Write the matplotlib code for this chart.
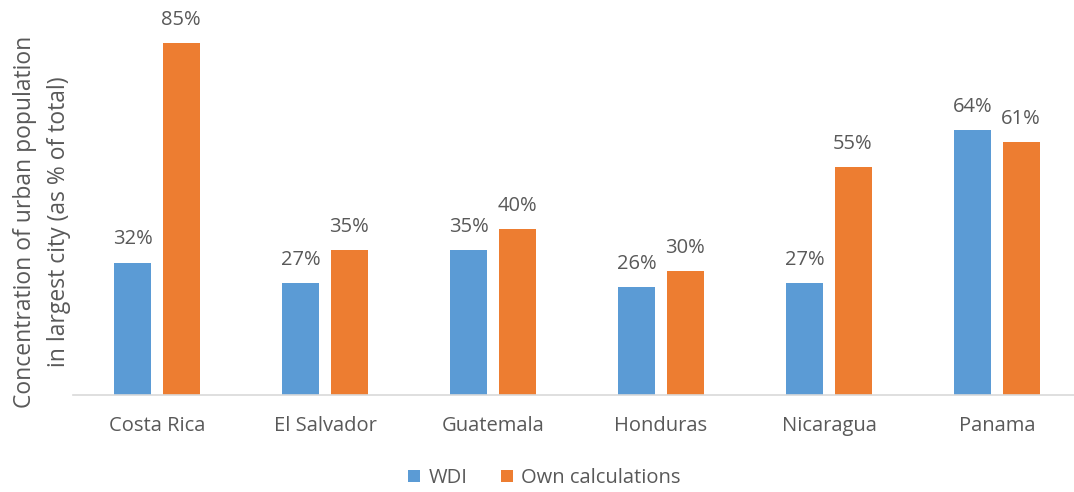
import numpy as np
import matplotlib.pyplot as plt

countries = ['Costa Rica', 'El Salvador', 'Guatemala', 'Honduras', 'Nicaragua', 'Panama']
wdi = [32, 27, 35, 26, 27, 64]
own = [85, 35, 40, 30, 55, 61]

blue = '#5B9BD5'
orange = '#ED7D31'
grey = '#595959'

plt.rcParams['font.family'] = ['Open Sans', 'DejaVu Sans']

fig = plt.figure(figsize=(10.74, 4.92), dpi=100)
ax = fig.add_axes([73 / 1074, 97 / 492, 1008 / 1074, 395 / 492])

x = np.arange(len(countries))
w = 0.22
off = 0.143
b1 = ax.bar(x - off, wdi, w, color=blue, label='WDI')
b2 = ax.bar(x + off, own, w, color=orange, label='Own calculations')

# value labels above each bar
for bars, vals in [(b1, wdi), (b2, own)]:
    for r, v in zip(bars, vals):
        ax.text(r.get_x() + r.get_width() / 2, v + 3.2, f'{v}%', ha='center', va='bottom',
                fontsize=14.5, color=grey)

ax.set_xlim(-0.5, 5.5)
ax.set_ylim(0, 95.4)
ax.set_yticks([])
ax.set_xticks(x)
ax.set_xticklabels(countries, fontsize=14.5, color=grey)
ax.tick_params(axis='x', length=0, pad=15)
for s in ['top', 'right', 'left']:
    ax.spines[s].set_visible(False)
ax.spines['bottom'].set_color('#D9D9D9')
ax.spines['bottom'].set_linewidth(1.2)

fig.text(42 / 1074, 1 - 222 / 492,
         'Concentration of urban population\nin largest city (as % of total)',
         rotation=90, ha='center', va='center', fontsize=16.5, color=grey, linespacing=1.55)

fig.legend(handles=[b1, b2], loc='center', bbox_to_anchor=(0.507, 1 - 478 / 492), ncol=2,
           frameon=False, fontsize=14.5, labelcolor=grey, handlelength=0.6, handleheight=0.6,
           handletextpad=0.4, columnspacing=1.7)

fig.savefig('out.png', dpi=100)
